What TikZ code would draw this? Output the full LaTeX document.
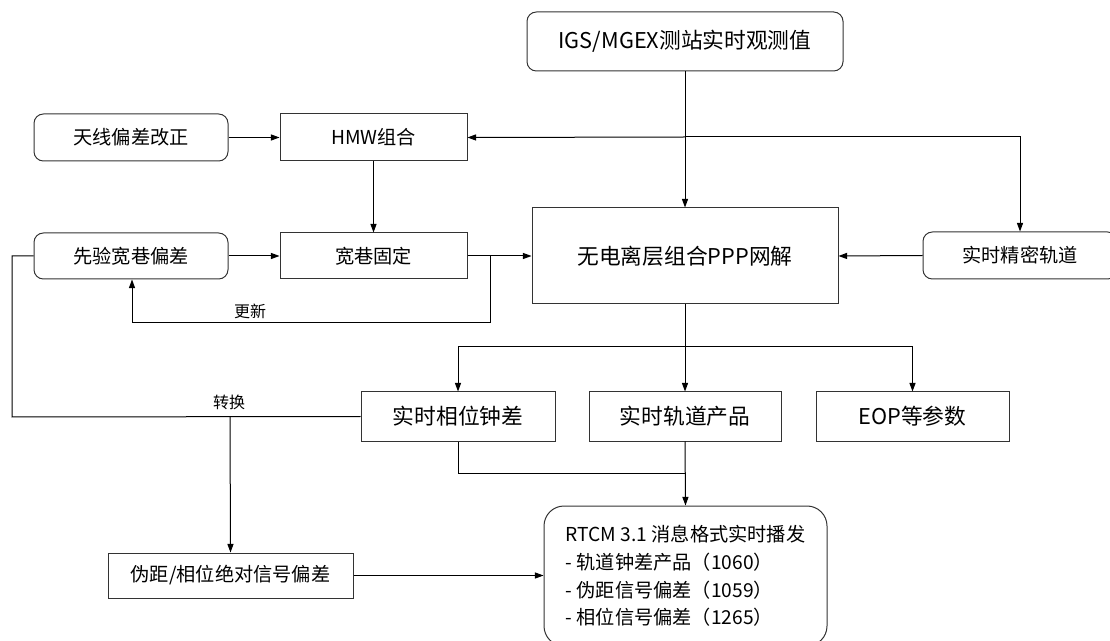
\documentclass[tikz,border=0pt]{standalone}
\usepackage{fontspec}
\setmainfont{Noto Sans CJK SC}
\usetikzlibrary{arrows.meta,calc}
\begin{document}
\begin{tikzpicture}[x=0.75pt,y=-0.75pt,
  line width=0.75pt,draw=black,
  box/.style={draw=black!80,line width=0.75pt,inner sep=0pt,align=center},
  big/.style={box,font=\fontsize{16.3}{20}\selectfont},
  small/.style={box,font=\fontsize{14.4}{18}\selectfont},
  rbox/.style={rounded corners=7pt},
  arr/.style={-{Triangle[length=6.5pt,width=4.6pt]}},
  lab/.style={font=\fontsize{12}{14}\selectfont,inner sep=0pt}]
\useasboundingbox (0,0) rectangle (1110,641);
% nodes
\node[big,rbox,minimum width=316*0.75pt,minimum height=59*0.75pt] (igs) at (685,41.5) {IGS/MGEX测站实时观测值};
\node[small,rbox,minimum width=194*0.75pt,minimum height=47*0.75pt] (ant) at (131,137.5) {天线偏差改正};
\node[small,minimum width=187*0.75pt,minimum height=47*0.75pt] (hmw) at (373.5,137.5) {HMW组合};
\node[small,rbox,minimum width=194*0.75pt,minimum height=46*0.75pt] (prior) at (131,256) {先验宽巷偏差};
\node[small,minimum width=187*0.75pt,minimum height=46*0.75pt] (wlfix) at (373.5,256) {宽巷固定};
\node[big,minimum width=306*0.75pt,minimum height=96*0.75pt] (ppp) at (685,256) {无电离层组合PPP网解};
\node[small,rbox,minimum width=194*0.75pt,minimum height=47*0.75pt] (orb) at (1020,255.5) {实时精密轨道};
\node[big,minimum width=194*0.75pt,minimum height=49*0.75pt] (clk) at (458,416.5) {实时相位钟差};
\node[big,minimum width=192*0.75pt,minimum height=49*0.75pt] (orbp) at (685,416.5) {实时轨道产品};
\node[big,minimum width=193*0.75pt,minimum height=49*0.75pt] (eop) at (912.5,416.5) {EOP等参数};
\node[small,minimum width=245*0.75pt,minimum height=45*0.75pt] (osb) at (230.5,575.5) {伪距/相位绝对信号偏差};
\node[box,rounded corners=15pt,align=left,minimum width=283*0.75pt,minimum height=140*0.75pt,
  font=\fontsize{14.4}{20.8}\selectfont] (rtcm) at (685.5,576)
  {RTCM 3.1 消息格式实时播发\\- 轨道钟差产品（1060）\\- 伪距信号偏差（1059）\\- 相位信号偏差（1265）};
% coordinates
\coordinate (j1) at (685,137);
\coordinate (b1) at (490,256);
\coordinate (upd) at (132,323);
\coordinate (j2) at (685,347);
\coordinate (j3) at (685,473);
\coordinate (l1) at (12,256);
\coordinate (l2) at (12,417);
\coordinate (cv) at (230,417);
% connectors
\draw[arr] (igs.south) -- (ppp.north);
\draw[arr] (j1) -- (hmw.east);
\draw[arr] (j1) -| (orb.north);
\draw[arr] (ant.east) -- (hmw.west);
\draw[arr] (hmw.south) -- (wlfix.north);
\draw[arr] (prior.east) -- (wlfix.west);
\draw[arr] (wlfix.east) -- (ppp.west);
\draw[arr] (b1) |- (upd) -- (upd |- prior.south);
\node[lab] (upl) at (250,311) {更新};
\draw[arr] (orb.west) -- (ppp.east);
\draw (ppp.south) -- (j2);
\draw[arr] (j2) -- (orbp.north);
\draw[arr] (j2) -| (clk.north);
\draw[arr] (j2) -| (eop.north);
\draw (prior.west) -- (l1) -- (l2) -- (clk.west);
\node[lab] (cvl) at (229,402) {转换};
\draw[arr] (cv) -- (osb.north);
\draw (clk.south) |- (j3);
\draw[arr] (orbp.south) -- (rtcm.north);
\draw[arr] (osb.east) -- (osb.east -| rtcm.west);
\end{tikzpicture}
\end{document}
